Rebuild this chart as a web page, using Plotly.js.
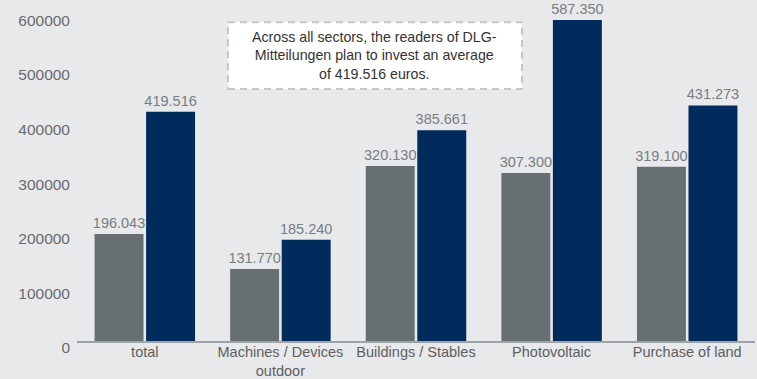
<!DOCTYPE html>
<html>
<head>
<meta charset="utf-8">
<script src="https://cdn.plot.ly/plotly-3.0.1.min.js"></script>
<style>
html,body{margin:0;padding:0;background:#e8e9eb;}
#chart{width:757px;height:379px;}
</style>
</head>
<body>
<div id="chart"></div>
<script>
const categories = ["total", "Machines / Devices<br>outdoor", "Buildings / Stables", "Photovoltaic", "Purchase of land"];
const seriesGray = [196043, 131770, 320130, 307300, 319100];
const seriesNavy = [419516, 185240, 385661, 587350, 431273];
const yTicks = [0, 100000, 200000, 300000, 400000, 500000, 600000];
const noteText = "Across all sectors, the readers of DLG-<br>Mitteilungen plan to invest an average<br>of 419.516 euros.";

const labelFont = {family: "Liberation Sans, Arial, sans-serif", size: 14.5, color: "#7a7d80"};

const traces = [
  {
    type: "bar", x: categories, y: seriesGray, name: "A",
    marker: {color: "#686f73"},
    texttemplate: "%{y:,.0f}", textposition: "outside", cliponaxis: false,
    constraintext: "none",
    textfont: labelFont, hoverinfo: "skip"
  },
  {
    type: "bar", x: categories, y: seriesNavy, name: "B",
    marker: {color: "#002b5c"},
    texttemplate: "%{y:,.0f}", textposition: "outside", cliponaxis: false,
    constraintext: "none",
    textfont: labelFont, hoverinfo: "skip"
  }
];

const layout = {
  width: 757, height: 379,
  paper_bgcolor: "#e8e9eb", plot_bgcolor: "#e8e9eb",
  margin: {l: 77, r: 2, t: 5, b: 38},
  separators: ",.",
  showlegend: false,
  barmode: "group", bargap: 0.24, bargroupgap: 0.05,
  font: {family: "Liberation Sans, Arial, sans-serif", color: "#6b6b6b"},
  xaxis: {
    showgrid: false, zeroline: false,
    showline: true, linecolor: "#9ea3a8", linewidth: 2,
    ticks: "", tickfont: {size: 14.5, color: "#5e5e5e"},
    ticklabelstandoff: -3
  },
  yaxis: {
    range: [0, 615000], showgrid: false, zeroline: false, showline: false,
    tickvals: yTicks, tickformat: "d", ticks: "",
    tickfont: {size: 15.5, color: "#6b6b6b"},
    ticklabelstandoff: 6, ticklabelshift: 7
  },
  shapes: [
    {type: "rect", xref: "paper", yref: "paper",
     x0: 0.2227, x1: 0.6563, y0: 0.75, y1: 0.949,
     fillcolor: "#ffffff", line: {color: "#c4c6c8", width: 2, dash: "7px,5px"}, layer: "above"}
  ],
  annotations: [
    {xref: "paper", yref: "paper", x: 0.4395, y: 0.8495, xanchor: "center", yanchor: "middle",
     text: noteText, showarrow: false, align: "center",
     font: {family: "Liberation Sans, Arial, sans-serif", size: 14.2, color: "#333333"}}
  ]
};

Plotly.newPlot("chart", traces, layout, {displayModeBar: false, staticPlot: true});
</script>
</body>
</html>
